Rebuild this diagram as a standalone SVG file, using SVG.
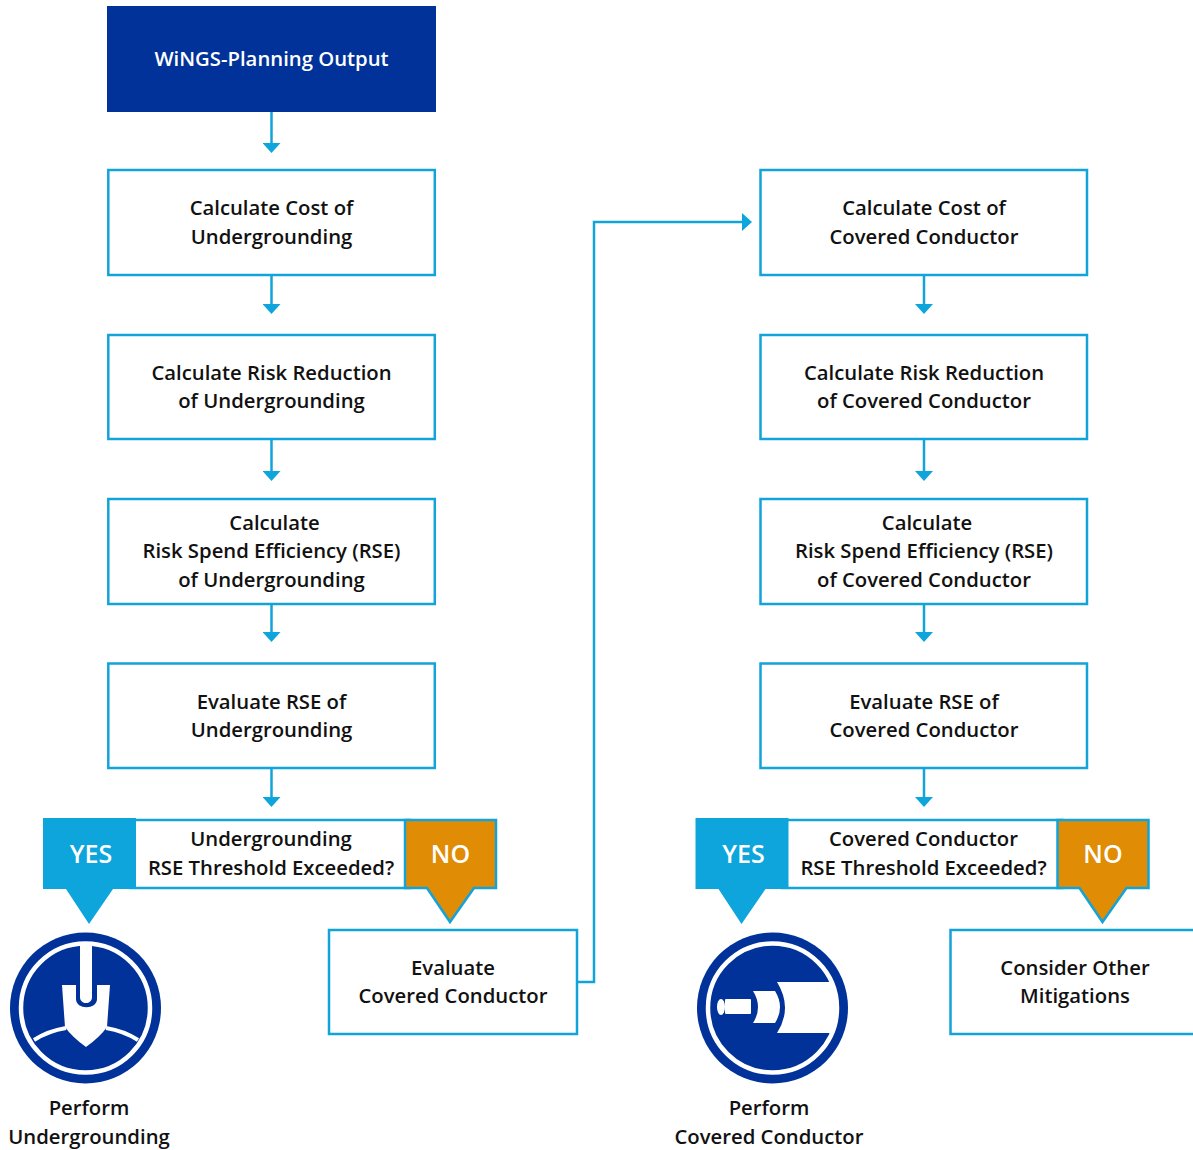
<svg xmlns="http://www.w3.org/2000/svg" width="1193" height="1150" viewBox="0 0 1193 1150">
<style>
text{font-family:"Open Sans","Noto Sans","Liberation Sans",sans-serif;font-weight:600;font-size:20.3px;fill:#111;text-anchor:middle}
.box{fill:#fff;stroke:#12a3d9;stroke-width:2.5}
.con{fill:none;stroke:#12a3d9;stroke-width:2.5}
.w{fill:#fff}
text.lbl{fill:#fff;font-size:25px;font-weight:600}
text.hd{fill:#fff}
.yes{fill:#0da5dc}
.no{fill:#e08c05;stroke:#12a3d9;stroke-width:2.5}
.navy{fill:#00329a}
</style>
<defs>
<marker id="ah" markerUnits="userSpaceOnUse" markerWidth="18" markerHeight="18" refX="0" refY="9" orient="auto"><path d="M0 0L10 9L0 18Z" fill="#0da5dc"/></marker>
<clipPath id="ringclip"><circle cx="772.500" cy="1008" r="64"/></clipPath>
</defs>
<g id="connectors">
<path class="con" marker-end="url(#ah)" d="M271.500 112V143"/>
<path class="con" marker-end="url(#ah)" d="M271.500 275V304"/>
<path class="con" marker-end="url(#ah)" d="M271.500 439V471"/>
<path class="con" marker-end="url(#ah)" d="M271.500 604V632"/>
<path class="con" marker-end="url(#ah)" d="M271.500 768V797"/>
<path class="con" marker-end="url(#ah)" d="M924 275V304"/>
<path class="con" marker-end="url(#ah)" d="M924 439V471"/>
<path class="con" marker-end="url(#ah)" d="M924 604V632"/>
<path class="con" marker-end="url(#ah)" d="M924 768V797"/>
<path class="con" marker-end="url(#ah)" d="M577 982H594V222H742"/>
</g>
<g id="start"><rect x="107" y="6" width="329" height="106" class="navy"/><text class="hd" x="271.500" y="66">WiNGS-Planning Output</text></g>
<g id="cost-ug"><rect class="box" x="108.300" y="170" width="326.500" height="105"/><text x="271.500" y="215">Calculate Cost of</text><text x="271.500" y="244">Undergrounding</text></g>
<g id="risk-ug"><rect class="box" x="108.300" y="335" width="326.500" height="104"/><text x="271.500" y="380">Calculate Risk Reduction</text><text x="271.500" y="408">of Undergrounding</text></g>
<g id="rse-ug"><rect class="box" x="108.300" y="499" width="326.500" height="105"/><text x="274.500" y="530">Calculate</text><text x="271.500" y="558">Risk Spend Efficiency (RSE)</text><text x="271.500" y="587">of Undergrounding</text></g>
<g id="eval-ug"><rect class="box" x="108.300" y="663.500" width="326.500" height="104.500"/><text x="271.500" y="709">Evaluate RSE of</text><text x="271.500" y="737">Undergrounding</text></g>
<g id="cost-cc"><rect class="box" x="760.500" y="170" width="326.500" height="105"/><text x="924" y="215">Calculate Cost of</text><text x="924" y="244">Covered Conductor</text></g>
<g id="risk-cc"><rect class="box" x="760.500" y="335" width="326.500" height="104"/><text x="924" y="380">Calculate Risk Reduction</text><text x="924" y="408">of Covered Conductor</text></g>
<g id="rse-cc"><rect class="box" x="760.500" y="499" width="326.500" height="105"/><text x="927" y="530">Calculate</text><text x="924" y="558">Risk Spend Efficiency (RSE)</text><text x="924" y="587">of Covered Conductor</text></g>
<g id="eval-cc"><rect class="box" x="760.500" y="663.500" width="326.500" height="104.500"/><text x="924" y="709">Evaluate RSE of</text><text x="924" y="737">Covered Conductor</text></g>
<g id="decision-ug">
<rect class="box" x="130" y="820" width="280" height="68"/>
<text x="271" y="846">Undergrounding</text><text x="271" y="875">RSE Threshold Exceeded?</text>
<path class="yes" d="M43 818H136V889H113L89 924L66 889H43Z"/>
<text class="lbl" x="91" y="863">YES</text>
<path class="no" d="M405 820H496V888H474L450 922L427 888H405Z"/>
<text class="lbl" x="450.500" y="863">NO</text>
</g>
<g id="decision-cc">
<rect class="box" x="782" y="820" width="280" height="68"/>
<text x="923.500" y="846">Covered Conductor</text><text x="923.500" y="875">RSE Threshold Exceeded?</text>
<path class="yes" d="M695.500 818H788.500V889H765.500L741.500 924L718.500 889H695.500Z"/>
<text class="lbl" x="743.500" y="863">YES</text>
<path class="no" d="M1057.500 820H1148.500V888H1126.500L1102.500 922L1079.500 888H1057.500Z"/>
<text class="lbl" x="1103" y="863">NO</text>
</g>
<g id="perform-ug">
<circle class="navy" cx="85.500" cy="1008" r="75.500"/>
<circle cx="85.500" cy="1008" r="64.500" fill="none" stroke="#fff" stroke-width="4.500"/>
<path class="w" d="M62 985H76V999C76 1010 97 1010 97 999V985H110L107 1027Q100 1037 86 1047Q72 1037 65 1027Z"/>
<path class="w" d="M80 945H92V997C92 1005 80 1005 80 997Z"/>
<path d="M34 1040Q48 1031 66 1028M138 1040Q124 1031 106 1028" fill="none" stroke="#fff" stroke-width="4"/>
<text x="89" y="1115">Perform</text><text x="89" y="1144">Undergrounding</text>
</g>
<g id="perform-cc">
<circle class="navy" cx="772.500" cy="1008" r="75.500"/>
<circle cx="772.500" cy="1008" r="64.500" fill="none" stroke="#fff" stroke-width="4.500"/>
<path class="w" clip-path="url(#ringclip)" d="M777 982H840V1033H777Q793 1008 777 982Z"/>
<path class="w" d="M753 991H775Q785 1007 775 1023H753Q763 1007 753 991Z"/>
<rect class="w" x="725" y="999" width="26" height="15" rx="1"/>
<ellipse class="w" cx="721" cy="1007" rx="4" ry="8"/>
<text x="769" y="1115">Perform</text><text x="769" y="1144">Covered Conductor</text>
</g>
<g id="eval-covered"><rect class="box" x="329" y="930" width="248" height="104"/><text x="453" y="975">Evaluate</text><text x="453" y="1003">Covered Conductor</text></g>
<g id="other"><rect class="box" x="950.500" y="930" width="250" height="104"/><text x="1075" y="975">Consider Other</text><text x="1075" y="1003">Mitigations</text></g>
</svg>
